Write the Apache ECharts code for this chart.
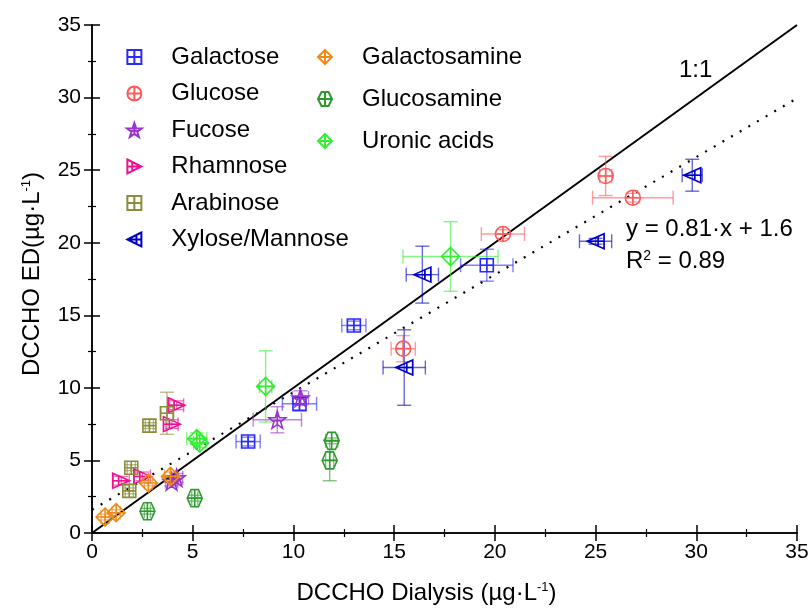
<!DOCTYPE html>
<html><head><meta charset="utf-8">
<script src="https://cdn.jsdelivr.net/npm/echarts@6/dist/echarts.min.js"></script>
<style>html,body{margin:0;padding:0;background:#fff}#c{width:812px;height:610px}</style>
</head><body><div id="c"></div>
<script>
// [x, y, xErr, yErr]
const galactose = [[13.0,14.3,0.6,0.3],[19.6,18.45,1.3,1.1],[7.75,6.3,0.6,0.3],[10.3,8.9,0.85,0.5]];
const glucose = [[25.5,24.6,0.3,1.35],[26.85,23.1,2.0,0.3],[20.4,20.6,1.07,0.3],[15.45,12.7,0.6,0.9]];
const fucose = [[9.2,7.8,1.2,0.9],[10.35,9.3,0.4,0.5],[3.95,3.55,0.3,0.3],[4.2,3.8,0.3,0.3]];
const rhamnose = [[4.2,8.8,0.35,0.3],[3.97,7.5,0.3,0.3],[1.45,3.6,0.4,0.3],[2.5,3.9,0.4,0.3]];
const arabinose = [[2.85,7.4,0.2,0.2],[3.72,8.25,0.3,1.45],[1.95,4.5,0.2,0.2],[1.85,2.9,0.2,0.2]];
const xylose = [[29.8,24.65,0.5,1.1],[25.0,20.1,0.8,0.2],[16.4,17.8,0.8,1.96],[15.5,11.4,1.05,2.6]];
const galactosamine = [[0.65,1.1,0.2,0.2],[1.2,1.4,0.2,0.2],[2.8,3.45,0.2,0.2],[3.9,3.9,0.3,0.3]];
const glucosamine = [[2.75,1.5,0.15,0.2],[5.1,2.4,0.15,0.2],[11.9,6.35,0.3,0.2],[11.8,5.0,0.2,1.4]];
const uronic = [[17.8,19.05,2.36,2.4],[8.62,10.1,0.3,2.45],[5.2,6.5,0.5,0.4],[5.35,6.2,0.3,0.3]];
const oneToOne = [[0,0],[35,35]];
const fitSlope = 0.81, fitIntercept = 1.6;
const fitLine = [[0, fitIntercept],[35, fitIntercept + fitSlope*35]];
const axisTicks = [0,5,10,15,20,25,30,35];

const P = {
  sq: 'path://M0,0L100,0L100,100L0,100Z M50,0L50,100 M0,50L100,50',
  ci: 'path://M0,50A50,50,0,1,1,100,50A50,50,0,1,1,0,50Z M50,0L50,100 M0,50L100,50',
  st: 'path://M50,0L61.76,33.82L97.55,34.55L69.02,56.18L79.39,90.45L50,70L20.61,90.45L30.98,56.18L2.45,34.55L38.24,33.82Z M50,20L50,80 M30,50L70,50',
  rt: 'path://M0,0L100,50L0,100Z M0,50L100,50 M35,18L35,82',
  lt: 'path://M100,0L0,50L100,100Z M0,50L100,50 M65,18L65,82',
  di: 'path://M50,0L100,50L50,100L0,50Z M50,0L50,100 M0,50L100,50',
  hx: 'path://M25,0L75,0L100,50L75,100L25,100L0,50Z M50,0L50,100 M0,50L100,50'
};

const groups = [
  {name:'Galactose', data:galactose, color:'#2a2aff', sym:P.sq, size:13},
  {name:'Glucose', data:glucose, color:'#ff5a5a', sym:P.ci, size:15},
  {name:'Fucose', data:fucose, color:'#9933cc', sym:P.st, size:17},
  {name:'Rhamnose', data:rhamnose, color:'#ee1190', sym:P.rt, size:[17,15]},
  {name:'Arabinose', data:arabinose, color:'#8c8c3c', sym:P.sq, size:13},
  {name:'Xylose/Mannose', data:xylose, color:'#0000c8', sym:P.lt, size:[17,15]},
  {name:'Galactosamine', data:galactosamine, color:'#ee8a1a', sym:P.di, size:18},
  {name:'Glucosamine', data:glucosamine, color:'#2e9a2e', sym:P.hx, size:[15,17]},
  {name:'Uronic acids', data:uronic, color:'#33ee33', sym:P.di, size:18}
];

const FONT = 'Liberation Sans';
const BIG = 24;
const series = [];
series.push({type:'line', data:oneToOne, showSymbol:false, silent:true, lineStyle:{color:'#000', width:2}, z:1});
series.push({type:'line', data:fitLine, showSymbol:false, silent:true, lineStyle:{color:'#000', width:2.2, type:[2,8]}, z:1});

groups.forEach(g => {
  series.push({
    type:'custom', name:g.name+' err', data:g.data, encode:{x:0,y:1}, z:2,
    renderItem:(params, api) => {
      const x=api.value(0), y=api.value(1), ex=api.value(2), ey=api.value(3);
      const l=api.coord([x-ex,y]), r=api.coord([x+ex,y]), t=api.coord([x,y+ey]), b=api.coord([x,y-ey]);
      const cap=7;
      const st={stroke:g.color, lineWidth:1.4, opacity:0.6};
      return {type:'group', children:[
        {type:'line', shape:{x1:l[0],y1:l[1],x2:r[0],y2:r[1]}, style:st},
        {type:'line', shape:{x1:l[0],y1:l[1]-cap,x2:l[0],y2:l[1]+cap}, style:st},
        {type:'line', shape:{x1:r[0],y1:r[1]-cap,x2:r[0],y2:r[1]+cap}, style:st},
        {type:'line', shape:{x1:t[0],y1:t[1],x2:b[0],y2:b[1]}, style:st},
        {type:'line', shape:{x1:t[0]-cap,y1:t[1],x2:t[0]+cap,y2:t[1]}, style:st},
        {type:'line', shape:{x1:b[0]-cap,y1:b[1],x2:b[0]+cap,y2:b[1]}, style:st}
      ]};
    }
  });
  series.push({
    type:'scatter', name:g.name, data:g.data.map(d=>[d[0],d[1]]), symbol:g.sym, symbolSize:g.size, z:3,
    itemStyle:{color:'rgba(255,255,255,0)', borderColor:g.color, borderWidth:1.6, opacity:1}
  });
});

const axisCommon = {
  type:'value', min:0, max:35, interval:5,
  axisLine:{show:true, lineStyle:{color:'#000', width:1.5}},
  axisTick:{show:true, inside:true, length:8, lineStyle:{color:'#000', width:1.5}},
  minorTick:{show:true, splitNumber:2, length:4, lineStyle:{color:'#000', width:1.2}},
  splitLine:{show:false}
};
const labelStyle = {color:'#000', fontSize:21, fontFamily:FONT};
const supRich = {sup:{fontSize:13, verticalAlign:'top', padding:[0,0,11,0], fontFamily:FONT, color:'#000'}};

const chart = echarts.init(document.getElementById('c'), null, {renderer:'canvas'});
chart.setOption({
  animation:false,
  backgroundColor:'#fff',
  grid:{left:92, right:15, top:25, bottom:73},
  xAxis:[
    Object.assign({}, axisCommon, {position:'bottom', name:'DCCHO Dialysis (µg·L{sup|-1})', nameLocation:'middle', nameGap:48,
      nameTextStyle:{color:'#000', fontSize:BIG, fontFamily:FONT, rich:supRich, padding:[0,36,0,0]},
      axisLabel:Object.assign({margin:9, formatter:v=>axisTicks.includes(v)?String(v):''}, labelStyle)}),
    Object.assign({}, axisCommon, {position:'top', axisLabel:{show:false}})
  ],
  yAxis:[
    Object.assign({}, axisCommon, {position:'left', name:'DCCHO ED(µg·L{sup|-1})', nameLocation:'middle', nameGap:48,
      nameTextStyle:{color:'#000', fontSize:BIG, fontFamily:FONT, rich:supRich, padding:[0,0,0,10]},
      axisLabel:Object.assign({margin:11, formatter:v=>axisTicks.includes(v)?String(v):''}, labelStyle)}),
    Object.assign({}, axisCommon, {position:'right', axisLabel:{show:false}})
  ],
  legend:[
    {data:['Galactose','Glucose','Fucose','Rhamnose','Arabinose','Xylose/Mannose'], orient:'vertical', left:121, top:40, itemGap:12.5, itemWidth:64, itemHeight:14,
      textStyle:{color:'#000', fontSize:BIG, fontFamily:FONT}, selectedMode:false},
    {data:['Galactosamine','Glucosamine','Uronic acids'], orient:'vertical', left:312, top:40, itemGap:18, itemWidth:64, itemHeight:14,
      textStyle:{color:'#000', fontSize:BIG, fontFamily:FONT}, selectedMode:false}
  ],
  graphic:[
    {type:'text', left:679, top:58, style:{text:'1:1', fontSize:BIG, fontFamily:FONT, fill:'#000'}},
    {type:'text', left:626, top:217, style:{text:'y = 0.81·x + 1.6', fontSize:BIG, fontFamily:FONT, fill:'#000'}},
    {type:'text', left:626, top:249, style:{text:'R{s|2} = 0.89', fontSize:BIG, fontFamily:FONT, fill:'#000', rich:{s:{fontSize:14, verticalAlign:'top', padding:[0,0,11,0], fontFamily:FONT}}}}
  ],
  series:series
});
</script></body></html>
